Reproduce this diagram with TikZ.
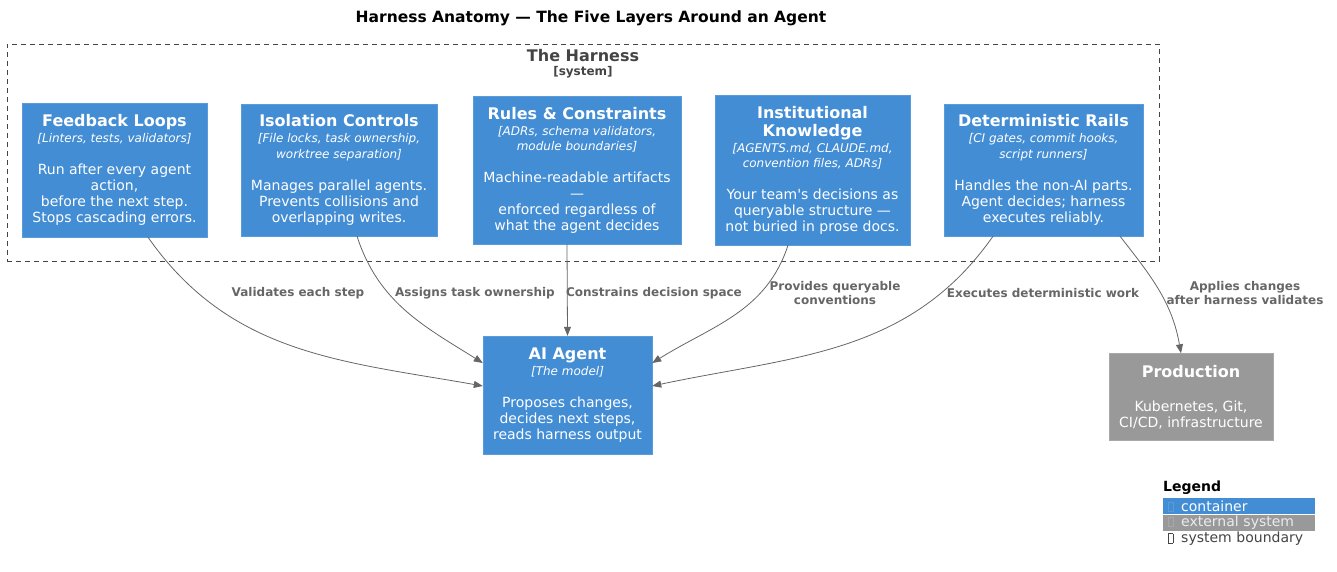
\documentclass[tikz,border=0pt]{standalone}
\usepackage{fontspec}
\setmainfont{DejaVu Sans}
\usepackage{xcolor}
\usetikzlibrary{arrows.meta, positioning}
\definecolor{c4blue}{HTML}{438DD5}
\definecolor{c4blueline}{HTML}{5A9BDB}
\definecolor{c4gray}{HTML}{999999}
\definecolor{c4grayline}{HTML}{A8A8A8}
\definecolor{edgegray}{HTML}{666666}
\definecolor{boundgray}{HTML}{444444}
\tikzstyle{arrow} = [
    line width=0.8pt,
    -{Triangle[length=9pt, width=7pt]},
    color=edgegray
]
\tikzstyle{container} = [draw=c4blueline, fill=c4blue, text=white, align=center, inner sep=0pt, font=\fontsize{14}{16}\selectfont]
\tikzstyle{external} = [draw=c4grayline, fill=c4gray, text=white, align=center, inner sep=0pt, font=\fontsize{14}{16}\selectfont]
\tikzstyle{elabel} = [text=edgegray, align=center, inner sep=0pt, font=\fontsize{12}{14}\selectfont\bfseries]
\tikzstyle{legrow} = [anchor=north west, minimum width=152pt, minimum height=16pt, text width=142pt, inner xsep=5pt, inner ysep=0pt, align=left, font=\fontsize{14}{16}\selectfont]
\newcommand{\boxtitle}[1]{{\fontsize{16}{18}\selectfont\bfseries #1}}
\newcommand{\boxtech}[1]{{\fontsize{12}{14}\selectfont\itshape #1}}
\newcommand{\tofu}[1]{{\color{#1}\setlength{\fboxrule}{0.5pt}\setlength{\fboxsep}{0pt}\fbox{\rule{0pt}{9pt}\hspace{4pt}}}}

\begin{document}
\begin{tikzpicture}[x=1pt, y=1pt]
        \useasboundingbox (0,0) rectangle (1337,-571);

        % Title
        \node[font=\fontsize{15.5}{17}\selectfont\bfseries] (title) at (591,-18) {Harness Anatomy — The Five Layers Around an Agent};

        % Boundary
        \node[draw=boundgray, dashed, dash pattern=on 5pt off 4pt, line width=0.6pt, minimum width=1152pt, minimum height=217pt, inner sep=0pt] (harness) at (583,-152.5) {};
        \node[text=boundgray, font=\fontsize{16}{18}\selectfont\bfseries] (harnesstitle) at (583,-56) {The Harness};
        \node[text=boundgray, font=\fontsize{12}{14}\selectfont\bfseries] (harnesstype) at (583,-72) {[system]};

        % Layers
        \node[container, minimum width=185pt, minimum height=134pt] (feedback) at (114.5,-170)
            {\boxtitle{Feedback Loops}\\ \boxtech{[Linters, tests, validators]}\\[16pt]
             Run after every agent\\ action,\\ before the next step.\\ Stops cascading errors.};
        \node[container, minimum width=196pt, minimum height=132pt] (isolation) at (339,-170)
            {\boxtitle{Isolation Controls}\\ \boxtech{[File locks, task ownership,}\\ \boxtech{worktree separation]}\\[16pt]
             Manages parallel agents.\\ Prevents collisions and\\ overlapping writes.};
        \node[container, minimum width=208pt, minimum height=148pt] (rules) at (577,-170)
            {\boxtitle{Rules \& Constraints}\\ \boxtech{[ADRs, schema validators,}\\[-1pt] \boxtech{module boundaries]}\\[16pt]
             Machine-readable artifacts\\ —\\ enforced regardless of\\ what the agent decides};
        \node[container, minimum width=195pt, minimum height=150pt] (knowledge) at (812.5,-170)
            {\boxtitle{Institutional}\\[2pt] \boxtitle{Knowledge}\\ \boxtech{[AGENTS.md, CLAUDE.md,}\\[-1pt] \boxtech{convention files, ADRs]}\\[16pt]
             Your team\textquotesingle s decisions as\\ queryable structure —\\ not buried in prose docs.};
        \node[container, minimum width=199pt, minimum height=132pt] (rails) at (1043.5,-170)
            {\boxtitle{Deterministic Rails}\\ \boxtech{[CI gates, commit hooks,}\\ \boxtech{script runners]}\\[16pt]
             Handles the non-AI parts.\\ Agent decides; harness\\ executes reliably.};

        % Agent and production
        \node[container, minimum width=169pt, minimum height=118pt] (agent) at (567.5,-395)
            {\boxtitle{AI Agent}\\ \boxtech{[The model]}\\[16pt]
             Proposes changes,\\ decides next steps,\\ reads harness output};
        \node[external, minimum width=164pt, minimum height=87pt] (production) at (1191,-397)
            {\boxtitle{Production}\\[18pt]
             Kubernetes, Git,\\ CI/CD, infrastructure};

        % Connectors
        \draw[arrow] ([xshift=33.5pt]feedback.south) to[out=-55, in=170] ([yshift=9pt]agent.west);
        \draw[arrow] ([xshift=18pt]isolation.south) to[out=-72, in=148] ([yshift=32pt]agent.west);
        \draw[arrow] ([xshift=-10pt]rules.south) -- (agent.north);
        \draw[arrow] ([xshift=-24.5pt]knowledge.south) to[out=-108, in=32] ([yshift=32pt]agent.east);
        \draw[arrow] ([xshift=-50.5pt]rails.south) to[out=-125, in=12] ([yshift=9pt]agent.east);
        \draw[arrow] ([xshift=76.5pt]rails.south) to[out=-52, in=100] ([xshift=-10pt]production.north);

        % Connector labels
        \node[elabel] (lblvalidate) at (298,-293) {Validates each step};
        \node[elabel] (lblassign) at (475,-293) {Assigns task ownership};
        \node[elabel] (lblconstrain) at (654,-293) {Constrains decision space};
        \node[elabel] (lblprovide) at (835,-293) {Provides queryable\\ conventions};
        \node[elabel] (lblexecute) at (1043,-293) {Executes deterministic work};
        \node[elabel] (lblapply) at (1245,-293) {Applies changes\\ after harness validates};

        % Legend
        \node[anchor=south west, inner sep=0pt, font=\fontsize{14}{16}\selectfont\bfseries] (legendtitle) at (1163,-495) {Legend};
        \node[legrow, fill=c4blue, text=white] (legcontainer) at (1163,-498) {\tofu{c4blueline}\hspace{8pt}container};
        \node[legrow, fill=c4gray, text=white!92!black, below=0pt of legcontainer] (legexternal) {\tofu{c4grayline}\hspace{8pt}external system};
        \node[legrow, text=boundgray, below=0pt of legexternal] (legboundary) {\tofu{boundgray}\hspace{8pt}system boundary};
    \end{tikzpicture}
\end{document}
